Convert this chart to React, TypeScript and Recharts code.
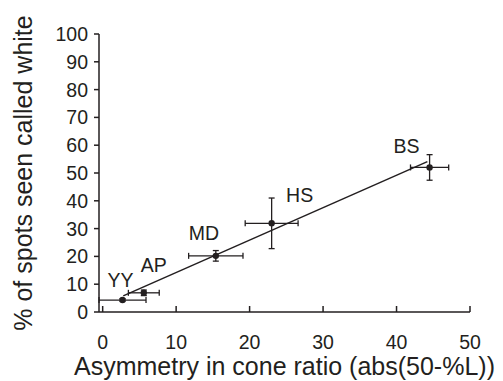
import { Scatter, ScatterChart, XAxis, YAxis, ErrorBar } from 'recharts';

const subjects = ['YY', 'AP', 'MD', 'HS', 'BS'];
const asymmetry = [2.7, 5.6, 15.4, 23.0, 44.5];
const percentWhite = [4.3, 6.9, 20.2, 31.9, 52.0];
const asymmetryErr = [3.2, 2.1, 3.7, 3.6, 2.6];
const percentErr = [0.5, 1.0, 1.9, 9.1, 4.6];

const fitX = [2.8, 44.2];
const fitY = [5.8, 54.1];

const xTicks = [0, 10, 20, 30, 40, 50];
const yTicks = [0, 10, 20, 30, 40, 50, 60, 70, 80, 90, 100];

const points = subjects.map((name, i) => ({
  name,
  x: asymmetry[i],
  y: percentWhite[i],
  xErr: asymmetryErr[i],
  yErr: percentErr[i],
}));
const fitLine = fitX.map((x, i) => ({ x, y: fitY[i] }));

const ink = '#231f20';
const font = '"Liberation Sans", Arial, sans-serif';
const tickFont = 19.5;

// where each name sits relative to its dot
const labelOffset: Record<string, [number, number]> = {
  YY: [-2, -13],
  AP: [10, -21],
  MD: [-12, -16],
  HS: [28, -21],
  BS: [-23, -14],
};

function Dot(props: any) {
  const { cx, cy, payload } = props;
  const [dx, dy] = labelOffset[payload.name] || [0, -12];
  return (
    <g>
      <circle cx={cx} cy={cy} r={3.2} fill={ink} />
      <text x={cx + dx} y={cy + dy} textAnchor="middle" fontSize={tickFont} fontFamily={font} fill={ink}>
        {payload.name}
      </text>
    </g>
  );
}

// x ticks point up into the plot, labels well below
function XTick(props: any) {
  const { x, y, payload } = props;
  return (
    <g>
      <line x1={x} y1={y} x2={x} y2={y - 6} stroke={ink} strokeWidth={1.5} />
      <text x={x} y={y + 37} textAnchor="middle" fontSize={tickFont} fontFamily={font} fill={ink}>
        {payload.value}
      </text>
    </g>
  );
}

function YTick(props: any) {
  const { x, y, payload } = props;
  return (
    <g>
      <line x1={x - 5} y1={y} x2={x} y2={y} stroke={ink} strokeWidth={1.5} />
      <text x={x - 11} y={y + 7} textAnchor="end" fontSize={tickFont} fontFamily={font} fill={ink}>
        {payload.value}
      </text>
    </g>
  );
}

const Nothing = () => <g />;

export default function App() {
  return (
    <div style={{ position: 'absolute', left: 0, top: 0, background: '#fff' }}>
      <ScatterChart width={503} height={381} margin={{ top: 34, right: 33, left: 18, bottom: 0 }}>
        <XAxis
          type="number"
          dataKey="x"
          domain={[0, 50]}
          ticks={xTicks}
          interval={0}
          height={69}
          tickSize={0}
          tickMargin={0}
          tickLine={false}
          stroke={ink}
          strokeWidth={1.5}
          tick={(p: any) => <XTick {...p} />}
          label={{
            value: 'Asymmetry in cone ratio (abs(50-%L))',
            position: 'insideBottom',
            offset: 6,
            fill: ink,
            fontSize: 25,
            fontFamily: font,
          }}
        />
        <YAxis
          type="number"
          dataKey="y"
          domain={[0, 100]}
          ticks={yTicks}
          interval={0}
          width={81}
          tickSize={0}
          tickMargin={0}
          tickLine={false}
          stroke={ink}
          strokeWidth={1.5}
          tick={(p: any) => <YTick {...p} />}
          label={{
            value: '% of spots seen called white',
            angle: -90,
            position: 'insideLeft',
            offset: 5,
            fill: ink,
            fontSize: 25,
            fontFamily: font,
            style: { textAnchor: 'middle' },
          }}
        />
        <Scatter
          data={fitLine}
          line={{ stroke: ink, strokeWidth: 1.5 }}
          shape={Nothing}
          isAnimationActive={false}
        />
        <Scatter data={points} shape={Dot} isAnimationActive={false}>
          <ErrorBar dataKey="xErr" direction="x" width={3} stroke={ink} strokeWidth={1.3} />
          <ErrorBar dataKey="yErr" direction="y" width={3} stroke={ink} strokeWidth={1.3} />
        </Scatter>
      </ScatterChart>
    </div>
  );
}
